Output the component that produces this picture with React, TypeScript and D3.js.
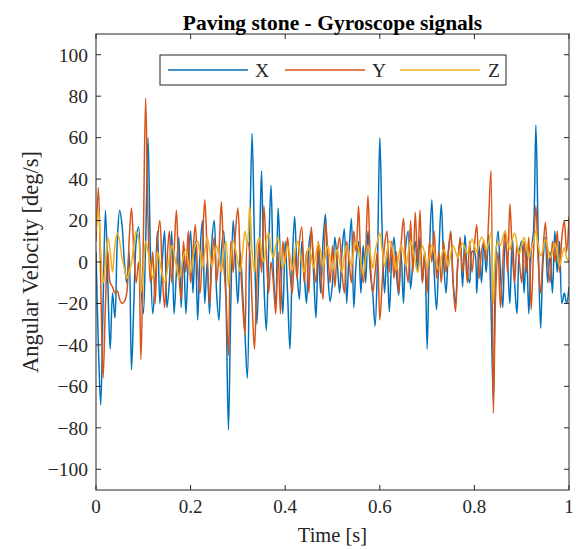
import React from "react";
import * as d3 from "d3";

const xTicks = [0, 0.2, 0.4, 0.6, 0.8, 1];
const yTicks = [-100, -80, -60, -40, -20, 0, 20, 40, 60, 80, 100];
const seriesNames = ["X", "Y", "Z"];
const seriesColors = ["#0072BD", "#D95319", "#EDB120"];
const dt = 0.005;

const gyroX = [
  5, -40, -69, -20, 25, -10, -42, -15, -27, 10, 25, 18, 0, -10, 5, -52, -20, 10, 17, -10,
  -25, 10, 60, 5, -25, -10, 15, -20, 0, 15, -22, -10, 15, -25, -5, 12, -22, 5, -25, 0,
  15, -15, 10, -28, 5, 20, -20, 0, -25, 10, 20, -15, -28, 5, 15, -20, -81, -20, 20, 0,
  -20, 5, -15, -35, -56, 10, 62, 10, -30, 0, 44, -10, -33, 5, 37, -5, -20, 26, 0, -25,
  10, -15, -42, 0, 22, -5, -18, 10, -5, -20, 8, 15, -5, -27, 5, -15, 10, 23, -5, -19,
  -10, 12, 0, -15, 5, 16, -20, 5, 21, -22, 0, 10, -15, 8, -10, 15, -5, -15, -31, 0,
  60, 15, -15, 5, -24, 0, 12, -5, -16, 5, -20, 8, 15, -13, 0, 10, -5, 12, -10, 5,
  -42, 5, 30, -5, -23, 5, 28, 0, -15, 5, 14, -10, -20, 0, 10, -12, 13, -5, -10, 5,
  5, -15, 8, -10, 10, -5, 13, -20, -67, 0, 15, -5, -22, 10, 0, -20, 12, -10, -25, 5,
  10, -15, 8, -25, 5, 15, 66, 10, -32, 0, 12, -10, 5, -15, 15, -5, 10, -20, -15, -20, -12,
];

const gyroY = [
  10, 36, -10, -56, -20, 5, -10, -12, -15, -14, -18, -20, -19, -15, 10, 26, 5, -10, 0, -47,
  10, 79, 20, -10, 5, -20, 10, 20, -5, -22, 0, 15, -10, 5, 25, -5, -18, 10, -5, 15,
  -10, 5, 18, -5, -15, 8, 30, 5, -20, 0, 12, -10, 5, 29, 0, -18, -45, 10, -5, 15,
  26, 0, -20, -35, 10, 5, -20, -42, -10, 10, -5, 27, 5, -15, 0, -10, -25, 5, -25, 10,
  0, 12, -5, -15, 5, -8, 10, 17, -10, 5, -15, 17, 0, -10, 10, -5, -18, 19, 5, -10,
  8, -12, 5, 12, -5, -15, 10, 0, -10, 15, 5, 27, 0, -10, 5, 32, 0, -15, -5, 5,
  -28, -10, 8, 15, -5, 10, -8, 5, -15, 8, 21, 0, -10, 20, -5, 24, 0, 25, -10, 5,
  -15, 10, 0, 15, -8, 5, -10, 10, -5, 5, 15, -10, -24, 0, 12, -5, 5, -10, 10, -5,
  8, 18, -8, 5, 10, 0, 20, 44, -73, -15, 5, -22, 0, 15, -5, 28, 5, -10, 8, 0,
  -10, 10, -5, 12, -23, 5, 27, 0, -15, 5, 19, 0, -10, 10, 0, 15, -5, 12, 20, 5, 22,
];

const gyroZ = [
  15, 25, 5, -10, 0, 12, 5, -5, 8, 14, 10, 2, -3, -8, -5, 0, 8, 15, 12, -15,
  -5, 10, 5, -2, -8, -3, 5, 0, -6, -10, -5, 2, 8, 4, -2, -8, -4, 3, 6, 0,
  -5, 2, 8, 10, 4, -3, 5, 12, 6, -2, 3, 8, 2, -5, 5, 10, -12, 2, 10, 6,
  0, -5, 5, 15, 8, 27, 5, -5, 8, 12, 5, 0, 10, 14, 6, 2, 8, 12, 4, -3,
  2, 8, 3, -4, 4, 10, 6, 0, -5, 2, 7, 3, -3, 4, 9, 5, -2, 3, 8, 2,
  -4, 2, 6, 0, -5, 3, 8, 4, -2, 5, 10, 6, 0, -6, 2, 8, 4, -3, 5, 10,
  14, 6, -2, 4, 10, 8, 2, -4, 3, 8, 5, -2, 4, 10, 6, 0, -5, 2, 8, 4,
  -3, 3, 8, 5, 0, -4, 2, 6, 3, -2, 4, 8, 5, 2, 6, 9, 7, 4, 8, 11,
  8, 5, 9, 12, 10, 6, 9, 14, -20, 5, 10, 8, 12, 15, 10, 6, 11, 14, 9, 4,
  8, 12, 7, 2, 6, 10, 15, 8, 3, 6, 11, 7, 2, 5, 9, 4, -2, 3, 7, 2, 0,
];

const W = 576;
const H = 549;
const left = 96;
const right = 569;
const top = 34;
const bottom = 490;
const axisColor = "#262626";
const font = "'Liberation Serif', 'Times New Roman', serif";

export default function App() {
  const x = d3.scaleLinear().domain([0, 1]).range([left, right]);
  const y = d3.scaleLinear().domain([-110, 110]).range([bottom, top]);
  const line = d3
    .line<number>()
    .x((_, i) => x(i * dt))
    .y((d) => y(d))
    .curve(d3.curveCatmullRom.alpha(0.5));
  const all = [gyroX, gyroY, gyroZ];
  const tl = 5;
  const fmt = (v: number) => (v < 0 ? "\u2212" + Math.abs(v) : String(v));

  const legendX = [168, 285, 400];
  const legendTextX = [255, 372, 488];

  return (
    <svg
      width={W}
      height={H}
      style={{ position: "absolute", left: 0, top: 0, background: "#fff" }}
      fontFamily={font}
    >
      <defs>
        <clipPath id="plotclip">
          <rect x={left} y={top} width={right - left} height={bottom - top} />
        </clipPath>
      </defs>
      <rect x={0} y={0} width={W} height={H} fill="#fff" />
      <g clipPath="url(#plotclip)">
        {all.map((s, k) => (
          <path
            key={k}
            d={line(s) || ""}
            fill="none"
            stroke={seriesColors[k]}
            strokeWidth={1.5}
            strokeLinejoin="round"
          />
        ))}
      </g>
      <rect
        x={left}
        y={top}
        width={right - left}
        height={bottom - top}
        fill="none"
        stroke={axisColor}
        strokeWidth={1}
      />
      {xTicks.map((t) => (
        <g key={"xt" + t}>
          <line x1={x(t)} x2={x(t)} y1={bottom} y2={bottom - tl} stroke={axisColor} />
          <line x1={x(t)} x2={x(t)} y1={top} y2={top + tl} stroke={axisColor} />
          <text
            x={x(t)}
            y={513}
            textAnchor="middle"
            fontSize={19}
            fill={axisColor}
          >
            {String(t)}
          </text>
        </g>
      ))}
      {yTicks.map((t) => (
        <g key={"yt" + t}>
          <line x1={left} x2={left + tl} y1={y(t)} y2={y(t)} stroke={axisColor} />
          <line x1={right} x2={right - tl} y1={y(t)} y2={y(t)} stroke={axisColor} />
          <text
            x={left - 8}
            y={y(t)}
            dy="0.35em"
            textAnchor="end"
            fontSize={19.5}
            fill={axisColor}
          >
            {fmt(t)}
          </text>
        </g>
      ))}
      <text
        x={(left + right) / 2}
        y={542}
        textAnchor="middle"
        fontSize={20.5}
        fill={axisColor}
      >
        Time [s]
      </text>
      <text
        transform={`translate(38, ${(top + bottom) / 2}) rotate(-90)`}
        textAnchor="middle"
        fontSize={22.5}
        fill={axisColor}
      >
        Angular Velocity [deg/s]
      </text>
      <text
        x={(left + right) / 2}
        y={30}
        textAnchor="middle"
        fontSize={21.5}
        fontWeight="bold"
        fill="#000"
      >
        Paving stone - Gyroscope signals
      </text>
      <rect x={160} y={55} width={346} height={30} fill="#fff" stroke={axisColor} strokeWidth={1} />
      {seriesNames.map((n, k) => (
        <g key={n}>
          <line
            x1={legendX[k]}
            x2={legendX[k] + 80}
            y1={70}
            y2={70}
            stroke={seriesColors[k]}
            strokeWidth={1.5}
          />
          <text
            x={legendTextX[k]}
            y={70}
            dy="0.35em"
            fontSize={19.5}
            fill={axisColor}
          >
            {n}
          </text>
        </g>
      ))}
    </svg>
  );
}
